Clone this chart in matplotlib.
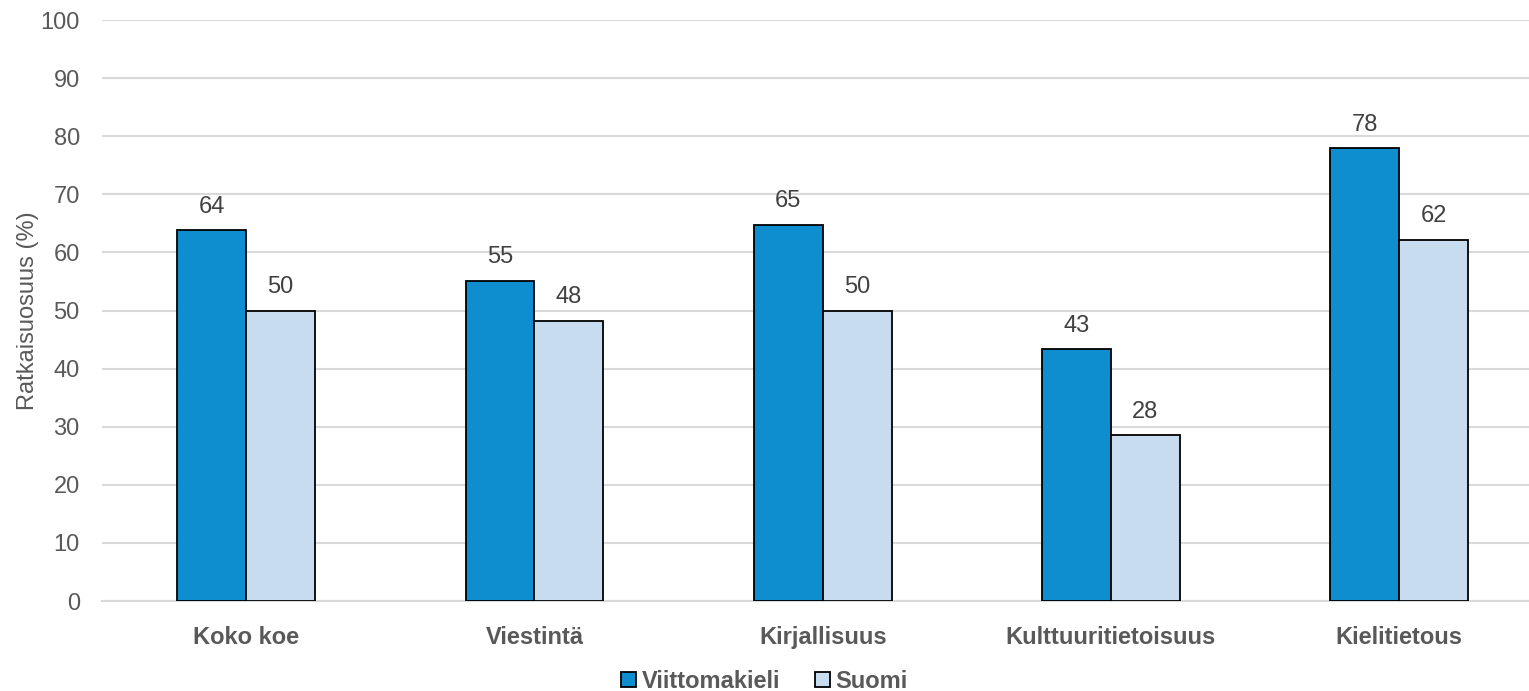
import numpy as np
import matplotlib.pyplot as plt

categories = ['Koko koe', 'Viestintä', 'Kirjallisuus', 'Kulttuuritietoisuus', 'Kielitietous']
viittomakieli = [63.8, 55.1, 64.7, 43.3, 77.9]
suomi = [49.9, 48.2, 50.0, 28.5, 62.1]
series_names = ['Viittomakieli', 'Suomi']

plt.rcParams['font.family'] = ['Liberation Sans', 'DejaVu Sans']

fig = plt.figure(figsize=(15.29, 6.91), dpi=100)
ax = fig.add_axes([0.0667, 0.1302, 0.9333, 0.8408])

x = np.arange(len(categories))
w = 0.239
dark = '#0E8ECF'
light = '#C8DCF0'

b1 = ax.bar(x - w / 2, viittomakieli, w, color=dark, edgecolor='black', linewidth=1.3,
            label=series_names[0], zorder=3)
b2 = ax.bar(x + w / 2, suomi, w, color=light, edgecolor='black', linewidth=1.3,
            label=series_names[1], zorder=3)

for bars in (b1, b2):
    for r in bars:
        h = r.get_height()
        ax.text(r.get_x() + r.get_width() / 2, h + 2.2, '{:.0f}'.format(h),
                ha='center', va='bottom', fontsize=17, color='#404040')

ax.set_xlim(-0.5, 4.45)
ax.set_ylim(0, 100)
ax.set_yticks(range(0, 101, 10))
ax.yaxis.grid(True, color='#D9D9D9', linewidth=1.5, zorder=0)
ax.set_axisbelow(True)
for s in ['top', 'right', 'left']:
    ax.spines[s].set_visible(False)
ax.spines['bottom'].set_color('#D9D9D9')
ax.spines['bottom'].set_linewidth(1.5)
ax.tick_params(axis='both', length=0, labelsize=17, colors='#595959')
ax.tick_params(axis='y', pad=16)
ax.tick_params(axis='x', pad=18)
ax.set_xticks(x)
ax.set_xticklabels(categories, fontweight='bold')
ax.set_ylabel('Ratkaisuosuus (%)', fontsize=17, color='#595959')
ax.yaxis.set_label_coords(-0.044, 0.5)

leg = fig.legend(loc='lower center', bbox_to_anchor=(0.5, -0.034), ncol=2, frameon=False,
                 prop={'size': 17, 'weight': 'bold'}, handlelength=0.6, handleheight=0.6,
                 handletextpad=0.25, columnspacing=1.5)
for t in leg.get_texts():
    t.set_color('#595959')

fig.savefig('out.png', dpi=100)
